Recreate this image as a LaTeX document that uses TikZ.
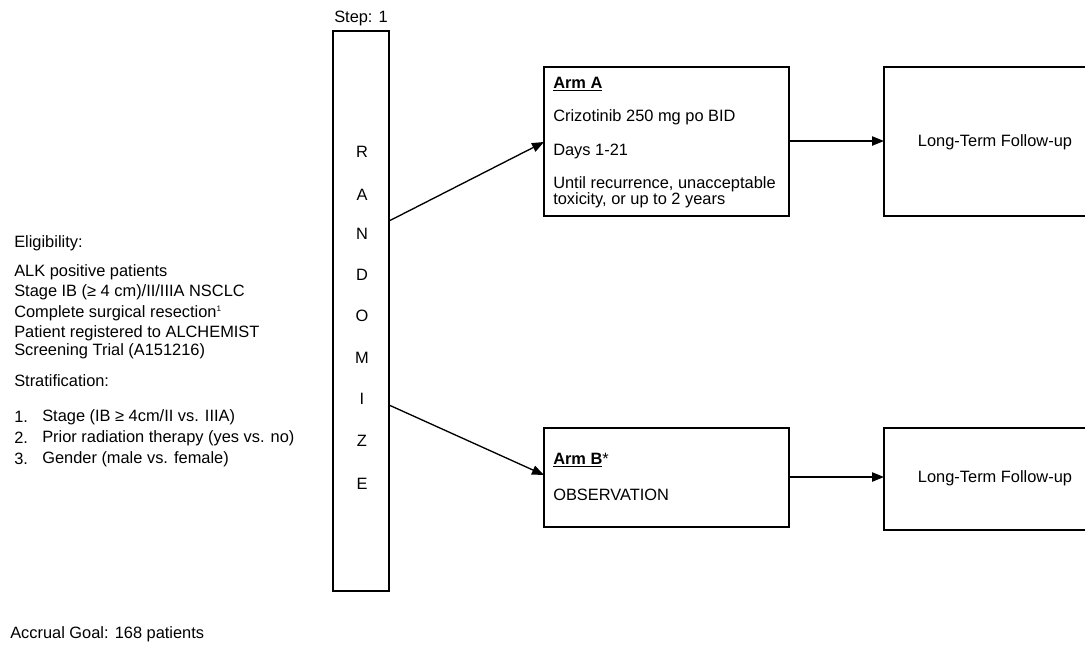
\documentclass[tikz,border=0pt]{standalone}
\usepackage{fontspec}
\setmainfont{Liberation Sans}
\usetikzlibrary{arrows.meta}
\begin{document}
\begin{tikzpicture}[x=0.75pt,y=-0.75pt,
  box/.style={draw,line width=1pt},
  txt/.style={anchor=west,inner sep=0pt,font=\fontsize{12.3}{14}\selectfont},
  ctxt/.style={inner sep=0pt,font=\fontsize{12.3}{14}\selectfont},
  arr/.style={line width=1pt,-{Triangle[length=9pt,width=7pt]}}]
\useasboundingbox (0,0) rectangle (1085,644);
\clip (0,0) rectangle (1085,644);
% Randomize
\node[ctxt] (step) at (361,18) {Step: 1};
\draw[box] (333,31) rectangle (389,591);
\coordinate (rA) at (389,221);
\coordinate (rB) at (389,405);
\foreach \l/\y in {R/152,A/195,N/234,D/275,O/316,M/358,I/399,Z/441,E/484}
  \node[ctxt] at (362,\y) {\l};
% Arm A
\draw[box] (544,67) rectangle (789,216);
\node[txt] at (553,84) {\textbf{\underline{Arm A}}};
\node[txt] at (553,117) {Crizotinib 250 mg po BID};
\node[txt] at (553,151) {Days 1-21};
\node[txt] at (553,184) {Until recurrence, unacceptable};
\node[txt] at (553,200) {toxicity, or up to 2 years};
\coordinate (aW) at (544,142);
\coordinate (aE) at (789,141);
% Arm B
\draw[box] (544,428) rectangle (789,527);
\node[txt] at (553,460) {\textbf{\underline{Arm B}}*};
\node[txt] at (553,495) {OBSERVATION};
\coordinate (bW) at (544,475);
\coordinate (bE) at (789,477);
% Long-term follow-up
\draw[box] (884,67) rectangle (1100,216);
\draw[box] (884,428) rectangle (1100,530);
\node[ctxt] at (995,142) {Long-Term Follow-up};
\node[ctxt] at (995,478) {Long-Term Follow-up};
\coordinate (lA) at (884,141);
\coordinate (lB) at (884,477);
% arrows
\draw[arr] (rA) -- (aW);
\draw[arr] (rB) -- (bW);
\draw[arr] (aE) -- (lA);
\draw[arr] (bE) -- (lB);
% left text
\node[txt] at (14,243) {Eligibility:};
\node[txt] at (14,272) {ALK positive patients};
\node[txt] at (14,292) {Stage IB (≥ 4 cm)/II/IIIA NSCLC};
\node[txt] at (14,313) {Complete surgical resection\textsuperscript{\fontsize{6}{6}\selectfont 1}};
\node[txt] at (14,333) {Patient registered to ALCHEMIST};
\node[txt] at (14,351) {Screening Trial (A151216)};
\node[txt] at (14,381) {Stratification:};
\node[txt] at (14,417) {1.};
\node[txt] at (42,417) {Stage (IB ≥ 4cm/II vs. IIIA)};
\node[txt] at (14,438) {2.};
\node[txt] at (42,438) {Prior radiation therapy (yes vs. no)};
\node[txt] at (14,459) {3.};
\node[txt] at (42,459) {Gender (male vs. female)};
\node[txt] at (10,634) {Accrual Goal: 168 patients};
\end{tikzpicture}
\end{document}
